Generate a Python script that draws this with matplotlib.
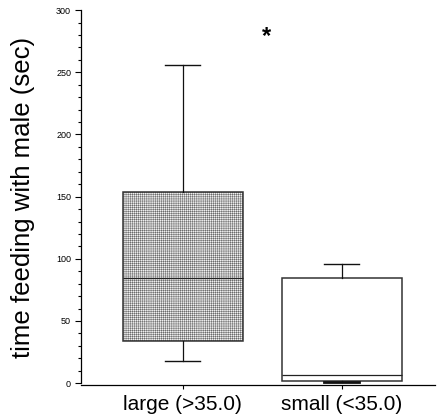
import matplotlib
matplotlib.use("Agg")
import matplotlib.pyplot as plt
from matplotlib.ticker import MultipleLocator

plt.rcParams['font.family'] = ['Liberation Sans', 'DejaVu Sans']
plt.rcParams['hatch.color'] = '#cacaca'
plt.rcParams['hatch.linewidth'] = 0.25

categories = ["large (>35.0)", "small (<35.0)"]
whislo = [17.7, 0.8]
q1 = [33.8, 1.6]
med = [84.5, 6.4]
q3 = [153.6, 84.5]
whishi = [255.8, 95.7]
facecolors = ['#f0f0f0', 'white']
hatches = ['++++++++', '']
star_pos = (1.525, 279)

fig = plt.figure(figsize=(4.37, 4.17), dpi=100)
ax = fig.add_axes([0.185, 0.0767, 0.81, 0.899])

stats = []
for i, c in enumerate(categories):
    stats.append(dict(label=c, whislo=whislo[i], q1=q1[i], med=med[i],
                      q3=q3[i], whishi=whishi[i], fliers=[]))

bp = ax.bxp(stats, positions=[1, 2], widths=0.755, capwidths=0.22,
            patch_artist=True, showfliers=False,
            boxprops=dict(linewidth=1.1, edgecolor='#333333'),
            medianprops=dict(color='#222222', linewidth=0.9),
            whiskerprops=dict(color='#111111', linewidth=0.9),
            capprops=dict(color='#111111', linewidth=1.0))
for patch, fc, h in zip(bp['boxes'], facecolors, hatches):
    patch.set_facecolor(fc)
    if h:
        patch.set_hatch(h)
bp['caps'][2].set_linewidth(2.0)

ax.text(star_pos[0], star_pos[1], '*', ha='center', va='center',
        fontsize=17, fontweight='bold')

ax.set_xlim(0.358, 2.585)
ax.set_ylim(-1.5, 300)
ax.yaxis.set_major_locator(MultipleLocator(50))
ax.yaxis.set_minor_locator(MultipleLocator(10))
ax.spines['top'].set_visible(False)
ax.spines['right'].set_visible(False)
ax.spines['left'].set_linewidth(0.9)
ax.spines['bottom'].set_linewidth(0.9)
ax.spines['left'].set_bounds(0, 300)
ax.tick_params(axis='y', which='major', labelsize=6.5, length=4, width=0.8, pad=3)
ax.tick_params(axis='y', which='minor', length=2.5, width=0.8)
ax.tick_params(axis='x', labelsize=15, length=3, width=0.8, pad=4)
ax.set_ylabel('time feeding with male (sec)', fontsize=18.5)
ax.yaxis.set_label_coords(-0.13, 0.5)

fig.savefig('out.png', dpi=100)
